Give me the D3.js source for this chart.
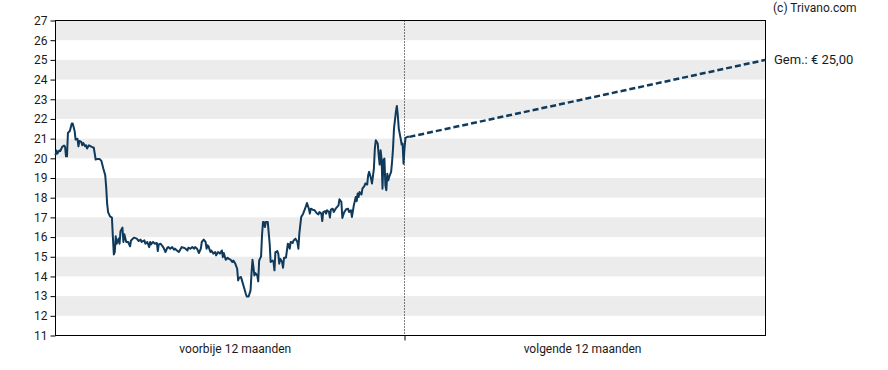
<!DOCTYPE html>
<html lang="nl">
<head>
<meta charset="UTF-8">
<title>Koersverloop</title>
<script src="https://d3js.org/d3.v7.min.js"></script>
<style>
  body { margin: 0; background: #fff; }
  svg text { font-family: Roboto, "Open Sans", sans-serif; }
</style>
</head>
<body>
<script>
  // days since start of the 12-month window, and closing prices
  var days = [0, 1, 2, 4, 5, 7, 9, 10, 11, 12, 13, 15, 17, 18, 20, 21, 23, 24, 25, 27, 28, 29, 31, 32, 33, 35, 37, 39, 40,
    42, 44, 46, 48, 50, 52, 53, 54, 55, 57, 59, 60, 61, 62, 63, 64, 66, 67, 68, 70, 71, 72, 74, 76, 78, 79, 82, 85, 87, 89,
    90, 93, 94, 96, 98, 99, 100, 102, 104, 106, 107, 108, 110, 112, 113, 115, 117, 118, 120, 122, 124, 125, 127, 129, 131,
    132, 134, 136, 138, 139, 141, 143, 145, 146, 148, 150, 152, 153, 155, 157, 158, 159, 160, 162, 163, 165, 167, 168, 170,
    172, 173, 174, 175, 176, 178, 180, 181, 183, 185, 186, 188, 190, 191, 192, 194, 195, 197, 199, 200, 202, 204, 205, 206,
    207, 208, 209, 211, 212, 213, 215, 216, 217, 218, 219, 220, 222, 224, 225, 227, 228, 229, 230, 232, 233, 234, 235, 237,
    238, 239, 241, 243, 244, 245, 246, 248, 249, 251, 253, 254, 255, 257, 259, 261, 263, 265, 266, 267, 269, 271, 273, 275,
    276, 278, 279, 280, 282, 283, 284, 286, 287, 288, 290, 291, 293, 296, 297, 299, 300, 302, 304, 306, 307, 309, 310, 312,
    314, 315, 316, 317, 318, 320, 321, 323, 324, 326, 327, 328, 330, 331, 333, 334, 335, 337, 338, 339, 340, 341, 342, 343,
    344, 345, 346, 347, 348, 349, 351, 352, 353, 354, 356, 357, 358, 359, 361, 362, 363, 364, 365, 366, 368, 370];
  var prices = [20.16, 20.40, 20.24, 20.40, 20.37, 20.58, 20.65, 20.58, 20.10, 20.10, 21.29, 21.39, 21.77, 21.77, 21.39,
    20.95, 20.99, 20.61, 20.88, 20.83, 20.66, 20.78, 20.61, 20.66, 20.50, 20.66, 20.61, 20.55, 20.55,
    19.94, 19.97, 19.97, 19.87, 19.48, 19.14, 18.54, 17.70, 17.27, 17.05, 16.99, 16.00, 15.12, 15.24, 16.04, 15.66, 15.92,
    15.66, 16.30, 16.48, 15.75, 16.14, 15.75, 15.75, 15.53, 15.83, 15.97, 15.92, 15.80, 15.87,
    15.75, 15.83, 15.66, 15.75, 15.49, 15.75, 15.63, 15.75, 15.66, 15.70, 15.29, 15.63, 15.66, 15.53, 15.46, 15.24, 15.46,
    15.49, 15.41, 15.49, 15.36, 15.41, 15.32, 15.24, 15.41,
    15.49, 15.46, 15.41, 15.32, 15.46, 15.41, 15.49, 15.41, 15.49, 15.41, 15.19, 15.41, 15.75, 15.87, 15.75, 15.41, 15.58,
    15.53, 15.24, 15.32, 15.16, 15.24, 15.07, 15.24,
    15.16, 15.24, 15.32, 14.98, 15.19, 14.85, 14.95, 14.90, 14.85, 14.73, 14.81, 14.65, 14.39, 13.80, 13.93, 13.97, 13.80,
    13.46, 13.12, 12.98, 12.98, 13.29, 14.14, 14.85,
    14.47, 14.05, 14.17, 14.05, 13.75, 14.81, 15.02, 16.09, 16.76, 16.76, 16.51, 16.76, 16.76, 15.66, 14.73, 14.81, 14.73,
    14.31, 15.24, 15.29, 15.16, 14.65, 14.90, 14.73,
    14.44, 14.95, 14.95, 15.66, 15.63, 15.41, 15.75, 15.70, 15.83, 15.92, 15.75, 15.41, 16.17, 17.02, 17.19, 17.44, 17.73,
    17.44, 17.19, 17.44, 17.39, 17.36, 17.22, 17.15,
    17.27, 17.19, 16.81, 17.27, 17.32, 17.19, 17.36, 17.27, 16.99, 17.39, 17.44, 17.27, 17.44, 17.61, 17.92, 17.78, 16.97,
    17.27, 17.41, 17.44, 17.27, 17.36, 17.02, 17.61,
    18.03, 17.82, 18.21, 18.03, 18.29, 18.16, 18.46, 18.59, 18.72, 18.67, 19.14, 19.31, 18.97, 18.72, 19.48, 20.50, 20.92,
    20.75, 20.16, 19.68, 20.41, 19.99, 18.46, 19.90,
    19.99, 18.63, 18.38, 19.22, 18.88, 19.05, 19.31, 19.82, 20.50, 21.51, 22.36, 22.66, 22.19, 21.51, 21.00, 20.70, 20.75,
    19.73, 20.50, 21.04, 21.09, 21.09];

  var targetDay = 730;
  var targetPrice = 25.00;

  var yTicks = [11, 12, 13, 14, 15, 16, 17, 18, 19, 20, 21, 22, 23, 24, 25, 26, 27];
  var bandStarts = [12, 14, 16, 18, 20, 22, 24, 26];
  var periodLabels = ["voorbije 12 maanden", "volgende 12 maanden"];
  var periodLabelDays = [188, 545];

  var width = 888, height = 370;
  var plotLeft = 55.5, plotRight = 765.5, plotTop = 20.5, plotBottom = 335.5, todayX = 404.5;
  var lineColor = "#0f3a5c";

  var svg = d3.select("body").append("svg")
    .attr("width", width)
    .attr("height", height);

  var x = d3.scaleLinear()
    .domain([0, 365, 730])
    .range([plotLeft, todayX, plotRight]);

  var y = d3.scaleLinear()
    .domain([11, 27])
    .range([plotBottom, plotTop]);

  // alternating bands
  svg.append("g").selectAll("rect")
    .data(bandStarts)
    .enter().append("rect")
    .attr("x", plotLeft)
    .attr("y", d => y(d + 1))
    .attr("width", plotRight - plotLeft)
    .attr("height", d => y(d) - y(d + 1))
    .attr("fill", "#ececec");

  // today marker
  svg.append("line")
    .attr("x1", x(365)).attr("x2", x(365))
    .attr("y1", plotTop).attr("y2", plotBottom)
    .attr("stroke", "#000")
    .attr("stroke-width", 1)
    .attr("stroke-dasharray", "1,2");

  var yAxis = svg.append("g")
    .attr("transform", `translate(${plotLeft},0)`)
    .call(d3.axisLeft(y).tickValues(yTicks).tickSize(5).tickPadding(3).tickFormat(d3.format("d")));
  yAxis.select(".domain").remove();
  yAxis.selectAll("text").attr("font-size", 12).attr("fill", "#1a1a1a").attr("font-family", "Roboto, sans-serif");

  var xAxis = svg.append("g")
    .attr("transform", `translate(0,${plotBottom})`)
    .call(d3.axisBottom(x).tickValues([365]).tickSize(5).tickFormat(""));
  xAxis.select(".domain").remove();

  svg.append("g").selectAll("text")
    .data(periodLabels)
    .enter().append("text")
    .attr("x", (d, i) => x(periodLabelDays[i]))
    .attr("y", 353)
    .attr("text-anchor", "middle")
    .attr("font-size", 12)
    .attr("fill", "#1a1a1a")
    .text(d => d);

  // frame
  svg.append("rect")
    .attr("x", plotLeft).attr("y", plotTop)
    .attr("width", plotRight - plotLeft).attr("height", plotBottom - plotTop)
    .attr("fill", "none")
    .attr("stroke", "#000")
    .attr("stroke-width", 1);

  var series = days.map((d, i) => [d, prices[i]]);
  var line = d3.line()
    .x(d => x(d[0]))
    .y(d => y(d[1]));

  svg.append("path")
    .datum(series)
    .attr("fill", "none")
    .attr("stroke", lineColor)
    .attr("stroke-width", 2)
    .attr("stroke-linejoin", "round")
    .attr("d", line);

  var last = series[series.length - 1];
  svg.append("path")
    .datum([last, [targetDay, targetPrice]])
    .attr("fill", "none")
    .attr("stroke", lineColor)
    .attr("stroke-width", 2.5)
    .attr("stroke-dasharray", "6,3")
    .attr("d", line);

  svg.append("text")
    .attr("x", 774)
    .attr("y", y(targetPrice) + 4.5)
    .attr("font-size", 13)
    .attr("fill", "#1a1a1a")
    .text("Gem.: € " + d3.format(".2f")(targetPrice).replace(".", ","));

  svg.append("text")
    .attr("x", 773)
    .attr("y", 12)
    .attr("font-size", 12)
    .attr("fill", "#1a1a1a")
    .text("(c) Trivano.com");
</script>
</body>
</html>
